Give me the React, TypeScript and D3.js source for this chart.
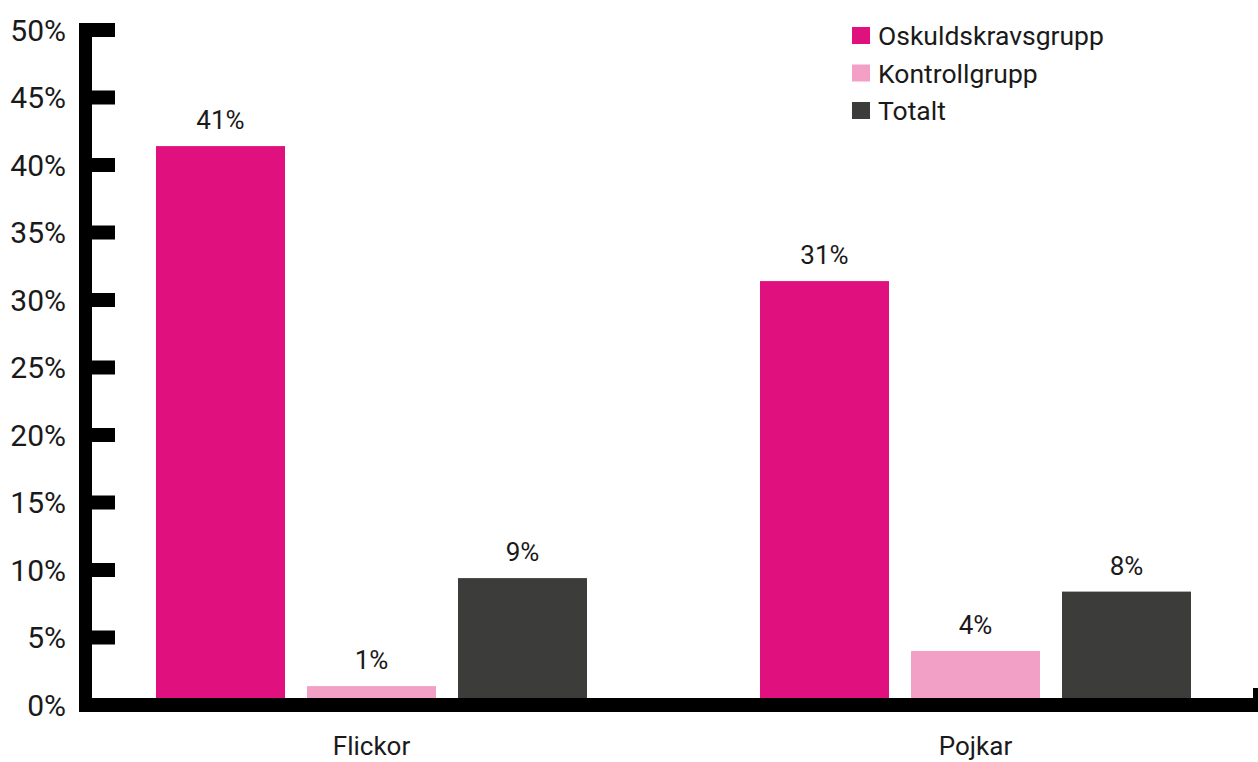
import React from "react";
import * as d3 from "d3";

const categories = ["Flickor", "Pojkar"];
const seriesNames = ["Oskuldskravsgrupp", "Kontrollgrupp", "Totalt"];
const oskuldskrav = [41.4, 31.4];
const kontroll = [1.4, 4.0];
const totalt = [9.4, 8.4];
const barLabels = [["41%", "31%"], ["1%", "4%"], ["9%", "8%"]];
const yTicks = [0, 5, 10, 15, 20, 25, 30, 35, 40, 45, 50];
const colors = ["#E0107E", "#F2A0C6", "#3C3C3B"];

const W = 1258;
const H = 762;

export default function App() {
  const series = [oskuldskrav, kontroll, totalt];
  const y = d3.scaleLinear().domain([0, 50]).range([705, 30]);
  const x0 = d3.scaleBand<string>().domain(categories).range([69.5, 1277.5]).paddingInner(0).paddingOuter(0);
  const x1 = d3.scaleBand<string>().domain(seriesNames).range([-215.5, 215.5]).paddingInner(22 / 151).paddingOuter(0);
  const font = "Roboto, 'Noto Sans', sans-serif";

  return (
    <svg width={W} height={H} style={{ position: "absolute", left: 0, top: 0, background: "#fff" }} fontFamily={font}>
      {/* bars */}
      {categories.map((c, ci) => (
        <g key={c} transform={`translate(${x0(c)! + x0.bandwidth() / 2},0)`}>
          {seriesNames.map((s, si) => {
            const v = series[si][ci];
            return (
              <g key={s}>
                <rect x={x1(s)!} y={y(v)} width={x1.bandwidth()} height={y(0) - y(v)} fill={colors[si]} />
                <text x={x1(s)! + x1.bandwidth() / 2} y={y(v) - 17} textAnchor="middle" fontSize={26} fill="#1a1a1a">
                  {barLabels[si][ci]}
                </text>
              </g>
            );
          })}
          <text x={0} y={755} textAnchor="middle" fontSize={26} fill="#1a1a1a">{c}</text>
        </g>
      ))}
      {/* y axis */}
      <rect x={79} y={23} width={13} height={712 - 23} fill="#000" />
      {yTicks.map((t) => (
        <g key={t}>
          {t > 0 && <rect x={79} y={y(t) - 7} width={115 - 79} height={14} fill="#000" />}
          <text x={66} y={y(t)} dy="0.36em" textAnchor="end" fontSize={30} fill="#1a1a1a">{t}%</text>
        </g>
      ))}
      {/* x axis */}
      <rect x={79} y={698} width={W - 79} height={14} fill="#000" />
      <rect x={1253} y={688} width={5} height={12} fill="#000" />
      {/* legend */}
      {seriesNames.map((s, i) => (
        <g key={s} transform={`translate(852,${27 + i * 37.5})`}>
          <rect x={0} y={0} width={18} height={17} fill={colors[i]} />
          <text x={26} y={8.5} dy="0.36em" fontSize={26.5} fill="#1a1a1a">{s}</text>
        </g>
      ))}
    </svg>
  );
}
